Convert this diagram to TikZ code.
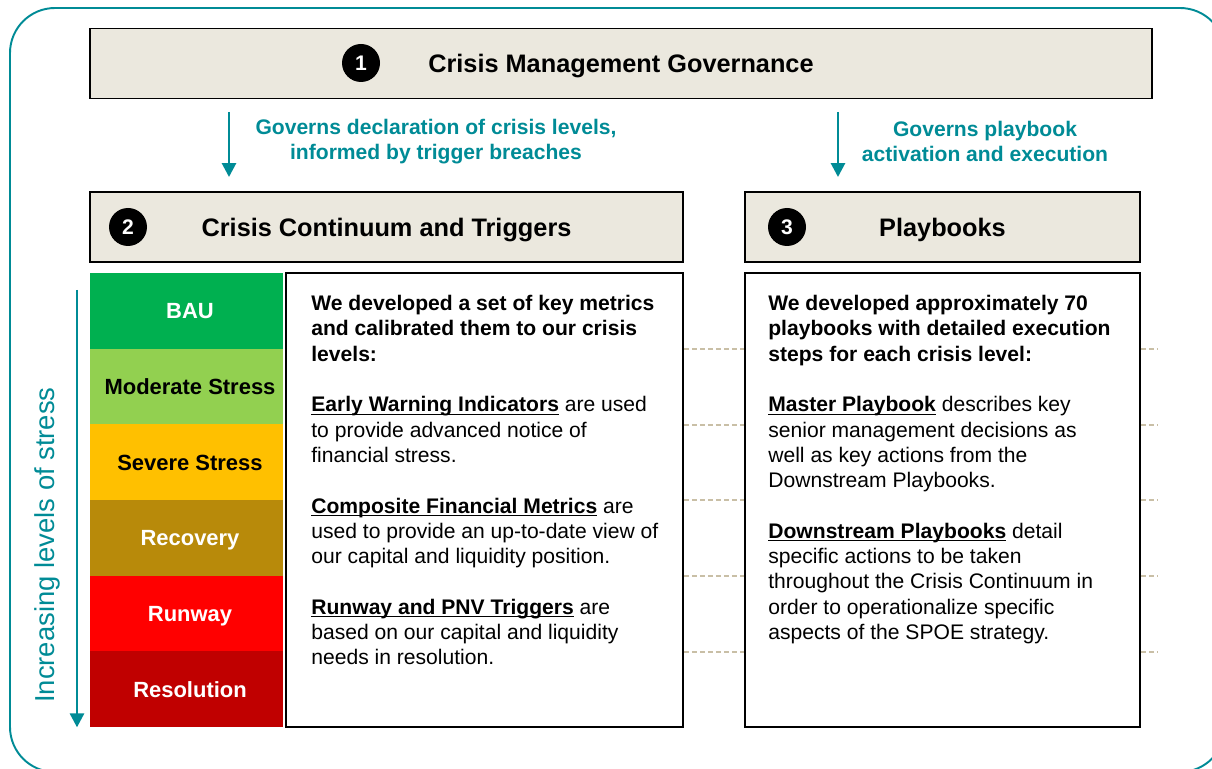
\documentclass[tikz,border=0pt]{standalone}
\usepackage{fontspec}
\setmainfont{Liberation Sans}
\usetikzlibrary{arrows.meta}
\definecolor{tealblue}{RGB}{0,139,150}
\definecolor{hdrgrey}{RGB}{235,232,222}
\definecolor{guidetan}{RGB}{201,191,166}
\definecolor{baugreen}{RGB}{0,176,80}
\definecolor{modgreen}{RGB}{146,208,80}
\definecolor{sevamber}{RGB}{255,192,0}
\definecolor{recbrown}{RGB}{184,138,10}
\definecolor{runred}{RGB}{255,0,0}
\definecolor{resred}{RGB}{192,0,0}
\newcommand\keyterm[1]{\underline{\smash{\textbf{#1}}}}
\tikzset{ hdr/.style = { rectangle % header band
        , draw
        , line width = 1.1pt
        , fill = hdrgrey
        , minimum height = 14mm
        , text height = 10.3pt
        , text depth = 0pt
        , font = \fontsize{14.4}{17}\selectfont\bfseries
        }
        , num/.style = { circle % step number
        , fill = black
        , minimum size = 7.6mm
        , inner sep = 0pt
        , text = white
        , font = \fontsize{12}{14}\selectfont\bfseries
        }
        , lvl/.style = { rectangle % crisis level
        , minimum width = 38.6mm
        , minimum height = 15.13mm
        , inner sep = 0pt
        , text height = 9pt
        , text depth = 0pt
        , font = \fontsize{12.5}{15}\selectfont\bfseries
        }
        , panel/.style = { rectangle % text panel
        , draw
        , line width = 1.1pt
        , minimum height = 90.8mm
        }
        }

\begin{document}
\begin{tikzpicture}[x=0.2mm, y=-0.2mm,
        body_style/.style={anchor=north west,inner sep=0pt,align=left,font=\fontsize{12}{14.4}\selectfont},
        gov_style/.style={text=tealblue,align=center,font=\fontsize{12}{14.2}\selectfont\bfseries},
        arrow_style/.style={draw=tealblue,line width=1.6pt,-{Triangle[width=2.8mm,length=2.8mm]}},
        guide_style/.style={draw=guidetan,line width=1.1pt,dash pattern=on 1mm off 0.6mm}]
        \useasboundingbox (0,0) rectangle (1212,769);
        \clip (0,0) rectangle (1212,769);
        \draw [tealblue, line width=1.1pt, rounded corners=9mm] (10,8) rectangle (1225,772);

        \node [hdr, minimum width=212.4mm] (cmg) at (621,63.5) {Crisis Management Governance};
        \node [hdr, minimum width=118.6mm] (cct) at (386.5,227) {Crisis Continuum and Triggers};
        \node [hdr, minimum width=79mm] (pbk) at (942.5,227) {Playbooks};
        \node [num] (n1) at (361,63) {1};
        \node [num] (n2) at (128,227) {2};
        \node [num] (n3) at (787,227) {3};

        \node [gov_style] (gov_lvl) at (436,142) {Governs declaration of crisis levels,\\informed by trigger breaches};
        \node [gov_style] (gov_pbk) at (985,141) {Governs playbook\\activation and execution};
        \coordinate (arr_a) at (229,112);
        \coordinate (arr_b) at (838,112);
        \draw [arrow_style, shorten >=2.8mm] (arr_a) -- (arr_a |- cct.north);
        \draw [arrow_style, shorten >=2.8mm] (arr_b) -- (arr_b |- pbk.north);

        \node [lvl, fill=baugreen, text=white] (lvl1) at (186.5,310.8) {\hspace*{4pt}BAU};
        \node [lvl, fill=modgreen] (lvl2) at (186.5,386.5) {\hspace*{4pt}Moderate Stress};
        \node [lvl, fill=sevamber] (lvl3) at (186.5,462.2) {\hspace*{4pt}Severe Stress};
        \node [lvl, fill=recbrown, text=white] (lvl4) at (186.5,537.8) {\hspace*{4pt}Recovery};
        \node [lvl, fill=runred, text=white] (lvl5) at (186.5,613.5) {\hspace*{4pt}Runway};
        \node [lvl, fill=resred, text=white] (lvl6) at (186.5,689.2) {\hspace*{4pt}Resolution};

        \node [panel, minimum width=79.4mm] (mid_txt) at (484.5,500) {};
        \node [panel, minimum width=79mm] (play_txt) at (942.5,500) {};

        \draw [guide_style] (lvl1.south -| mid_txt.east) -- (lvl1.south -| play_txt.west) (lvl1.south -| play_txt.east) -- ++(17,0);
        \draw [guide_style] (lvl2.south -| mid_txt.east) -- (lvl2.south -| play_txt.west) (lvl2.south -| play_txt.east) -- ++(17,0);
        \draw [guide_style] (lvl3.south -| mid_txt.east) -- (lvl3.south -| play_txt.west) (lvl3.south -| play_txt.east) -- ++(17,0);
        \draw [guide_style] (lvl4.south -| mid_txt.east) -- (lvl4.south -| play_txt.west) (lvl4.south -| play_txt.east) -- ++(17,0);
        \draw [guide_style] (lvl5.south -| mid_txt.east) -- (lvl5.south -| play_txt.west) (lvl5.south -| play_txt.east) -- ++(17,0);

        \node [rotate=90, text=tealblue, font=\fontsize{15.6}{18}\selectfont] (stress_lbl) at (47,545) {Increasing levels of stress};
        \coordinate (stress_top) at (77,290);
        \draw [arrow_style] (stress_top) -- (stress_top |- lvl6.south);

        \node [body_style] (mid_body) at (311,295) {\textbf{We developed a set of key metrics}\\
                \textbf{and calibrated them to our crisis}\\
                \textbf{levels:}\\[14.4pt]
                \keyterm{Early Warning Indicators} are used\\
                to provide advanced notice of\\
                financial stress.\\[14.4pt]
                \keyterm{Composite Financial Metrics} are\\
                used to provide an up-to-date view of\\
                our capital and liquidity position.\\[14.4pt]
                \keyterm{Runway and PNV Triggers} are\\
                based on our capital and liquidity\\
                needs in resolution.};
        \node [body_style] (play_body) at (768,295) {\textbf{We developed approximately 70}\\
                \textbf{playbooks with detailed execution}\\
                \textbf{steps for each crisis level:}\\[14.4pt]
                \keyterm{Master Playbook} describes key\\
                senior management decisions as\\
                well as key actions from the\\
                Downstream Playbooks.\\[14.4pt]
                \keyterm{Downstream Playbooks} detail\\
                specific actions to be taken\\
                throughout the Crisis Continuum in\\
                order to operationalize specific\\
                aspects of the SPOE strategy.};
\end{tikzpicture}
\end{document}
